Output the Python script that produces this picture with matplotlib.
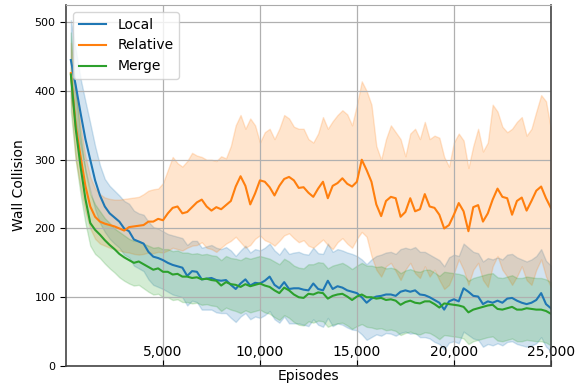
import numpy as np
import matplotlib
matplotlib.use("Agg")
import matplotlib.pyplot as plt
from matplotlib.ticker import FuncFormatter

# Episodes at which the smoothed curves are sampled
episode_step = 250
episodes = np.arange(1, 101) * episode_step

local_mean = [
    445, 408, 368, 330, 300, 270, 248, 232, 222, 216,
    210, 200, 196, 184, 181, 178, 166, 159, 157, 154,
    150, 147, 145, 143, 131, 138, 137, 126, 127, 128,
    125, 124, 125, 118, 112, 120, 126, 117, 121, 120,
    124, 130, 118, 113, 122, 112, 113, 113, 111, 110,
    120, 112, 110, 124, 112, 116, 114, 110, 108, 106,
    100, 92, 98, 101, 102, 104, 104, 102, 108, 110,
    108, 110, 104, 103, 100, 96, 92, 82, 94, 97,
    94, 113, 108, 102, 101, 90, 94, 92, 95, 92,
    98, 99, 95, 92, 90, 92, 96, 106, 90, 84,
]
local_upper = [
    503, 460, 418, 385, 353, 320, 292, 272, 262, 255,
    248, 240, 236, 226, 222, 220, 210, 202, 200, 196,
    192, 190, 188, 186, 176, 182, 182, 172, 174, 176,
    172, 170, 173, 168, 160, 168, 175, 165, 170, 168,
    172, 178, 168, 162, 172, 163, 165, 166, 163, 162,
    172, 164, 163, 178, 166, 170, 168, 165, 163, 160,
    155, 148, 155, 160, 162, 165, 166, 163, 170, 172,
    170, 173, 166, 166, 162, 158, 154, 145, 158, 162,
    160, 178, 172, 166, 164, 152, 157, 155, 158, 155,
    162, 163, 158, 155, 152, 155, 160, 170, 153, 146,
]
local_lower = [
    390, 355, 320, 285, 255, 228, 208, 195, 185, 178,
    172, 162, 158, 146, 142, 138, 126, 118, 115, 112,
    108, 104, 102, 100, 88, 95, 93, 82, 82, 82,
    78, 77, 77, 70, 64, 72, 77, 68, 72, 70,
    74, 80, 68, 63, 72, 62, 62, 62, 60, 58,
    68, 60, 57, 70, 58, 62, 60, 56, 53, 52,
    46, 38, 42, 46, 44, 48, 47, 44, 48, 50,
    47, 48, 42, 42, 40, 35, 32, 24, 34, 36,
    33, 50, 45, 40, 38, 28, 32, 30, 33, 30,
    35, 36, 32, 30, 28, 30, 33, 42, 28, 22,
]

relative_mean = [
    426, 350, 305, 262, 232, 217, 210, 207, 205, 203,
    200, 197, 202, 203, 204, 205, 210, 210, 214, 212,
    222, 230, 232, 222, 224, 231, 238, 242, 232, 226,
    231, 228, 234, 240, 261, 276, 262, 235, 251, 270,
    268, 260, 248, 262, 272, 275, 270, 259, 260, 252,
    246, 258, 268, 244, 262, 266, 273, 265, 261, 268,
    300, 285, 268, 235, 218, 240, 246, 244, 217, 224,
    244, 225, 228, 250, 232, 230, 220, 200, 205, 220,
    237, 225, 196, 231, 234, 210, 222, 242, 258, 246,
    244, 220, 240, 245, 226, 240, 255, 261, 244, 230,
]
relative_upper = [
    470, 400, 350, 305, 275, 258, 250, 245, 243, 242,
    242, 243, 244, 245, 246, 250, 255, 257, 258, 266,
    285, 304, 295, 290, 298, 310, 306, 304, 300, 300,
    298, 305, 302, 320, 350, 365, 345, 360, 350, 325,
    340, 345, 330, 345, 365, 360, 348, 345, 345, 330,
    325, 338, 362, 345, 356, 365, 372, 366, 350, 380,
    414, 400, 380, 320, 300, 330, 350, 340, 330, 305,
    338, 345, 330, 355, 330, 335, 332, 304, 290, 325,
    338, 328, 288, 320, 345, 312, 325, 380, 370, 348,
    340, 345, 355, 362, 335, 345, 370, 394, 385, 345,
]
relative_lower = [
    385, 300, 260, 225, 200, 185, 178, 175, 172, 170,
    168, 166, 165, 163, 162, 163, 165, 164, 166, 165,
    168, 172, 170, 168, 172, 175, 176, 180, 172, 170,
    166, 172, 178, 182, 188, 180, 172, 176, 185, 190,
    183, 180, 175, 182, 190, 193, 186, 180, 183, 175,
    172, 178, 184, 176, 170, 180, 186, 178, 172, 185,
    195, 188, 160, 140, 130, 145, 150, 138, 125, 140,
    150, 135, 128, 145, 130, 140, 125, 112, 118, 135,
    155, 140, 118, 140, 150, 125, 115, 145, 160, 140,
    130, 118, 130, 145, 125, 118, 140, 155, 130, 115,
]

merge_mean = [
    424, 345, 290, 243, 208, 198, 191, 183, 176, 170,
    163, 158, 154, 150, 152, 148, 144, 140, 142, 137,
    137, 133, 134, 130, 130, 128, 129, 126, 127, 125,
    124, 117, 122, 119, 118, 115, 119, 116, 118, 120,
    117, 115, 110, 106, 114, 110, 104, 100, 99, 105,
    104, 107, 106, 98, 102, 104, 105, 101, 96, 101,
    104, 100, 100, 98, 99, 96, 97, 95, 89, 93,
    95, 92, 91, 94, 94, 90, 85, 91, 90, 89,
    88, 86, 78, 82, 84, 86, 88, 89, 83, 82,
    84, 86, 82, 82, 84, 83, 82, 82, 80, 76,
]
merge_upper = [
    485, 400, 335, 285, 250, 235, 225, 215, 208, 200,
    195, 190, 185, 182, 182, 178, 175, 172, 173, 170,
    170, 167, 168, 165, 165, 163, 164, 162, 163, 161,
    160, 154, 160, 157, 156, 154, 158, 156, 158, 160,
    158, 156, 152, 148, 156, 152, 146, 143, 142, 148,
    148, 151, 150, 142, 146, 148, 150, 146, 141, 146,
    150, 146, 146, 144, 145, 142, 143, 141, 135, 139,
    141, 138, 137, 140, 140, 136, 131, 137, 136, 135,
    134, 132, 124, 128, 130, 132, 134, 135, 129, 128,
    130, 132, 128, 128, 130, 129, 128, 128, 126, 122,
]
merge_lower = [
    370, 300, 250, 208, 175, 163, 157, 149, 142, 136,
    129, 124, 120, 117, 118, 113, 108, 104, 105, 100,
    100, 96, 97, 93, 93, 91, 92, 89, 90, 88,
    87, 80, 85, 82, 80, 77, 81, 78, 80, 82,
    78, 76, 71, 67, 74, 70, 64, 60, 59, 65,
    63, 66, 65, 57, 60, 62, 63, 59, 54, 58,
    61, 57, 56, 54, 55, 52, 53, 51, 45, 48,
    50, 47, 46, 49, 48, 44, 39, 45, 44, 43,
    42, 40, 32, 36, 38, 40, 42, 43, 37, 36,
    38, 40, 36, 36, 38, 37, 36, 36, 34, 30,
]

series = [
    ("Local", local_mean, local_lower, local_upper, "#1f77b4"),
    ("Relative", relative_mean, relative_lower, relative_upper, "#ff7f0e"),
    ("Merge", merge_mean, merge_lower, merge_upper, "#2ca02c"),
]

x_ticks = [5000, 10000, 15000, 20000, 25000]
y_ticks = [0, 100, 200, 300, 400, 500]

fig = plt.figure(figsize=(5.75, 3.87), dpi=100)
ax = fig.add_axes([0.1148, 0.0543, 0.8432, 0.9327])

for name, mean, lower, upper, color in series:
    ax.fill_between(episodes, lower, upper, color=color, alpha=0.2)
for name, mean, lower, upper, color in series:
    ax.plot(episodes, mean, color=color, linewidth=1.5, label=name)

ax.set_xlim(0, 25000)
ax.set_ylim(0, 525)
ax.set_xticks(x_ticks)
ax.set_yticks(y_ticks)
ax.xaxis.set_major_formatter(FuncFormatter(lambda v, p: f"{int(v):,}"))
ax.grid(True, color="#b0b0b0", linewidth=0.9)

ax.tick_params(axis="x", direction="in", pad=-15, labelsize=10, length=4)
ax.tick_params(axis="y", direction="out", labelsize=8, length=4)

for side in ("left", "bottom", "right"):
    ax.spines[side].set_color("#444444")
    ax.spines[side].set_linewidth(1.2)
ax.spines["top"].set_color("#aaaaaa")

ax.set_xlabel("Episodes", fontsize=10, labelpad=2)
ax.set_ylabel("Wall Collision", fontsize=10, labelpad=6)

ax.legend(loc="upper left", fontsize=10)

fig.savefig("out.png", dpi=100)
